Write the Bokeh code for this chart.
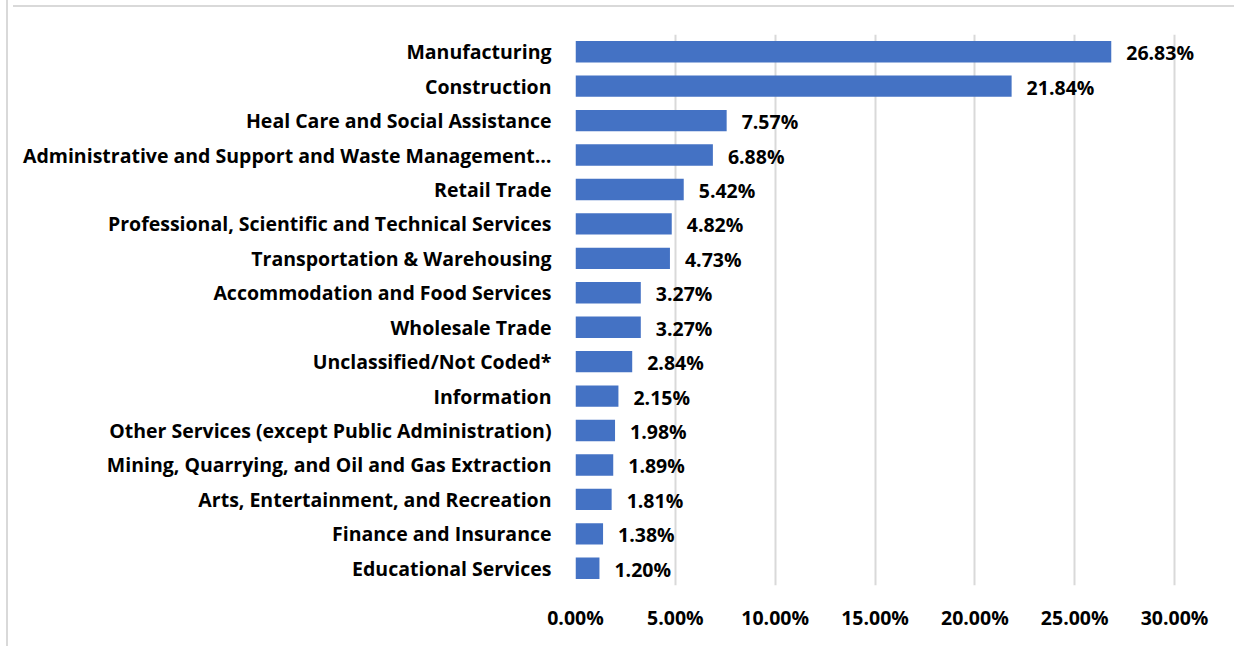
from bokeh.plotting import figure
from bokeh.layouts import column
from bokeh.models import ColumnDataSource, FixedTicker, NumeralTickFormatter, Div
from bokeh.core.properties import value
from bokeh.embed import file_html
from bokeh.resources import INLINE

# Data (top to bottom as in the reference)
industries = [
    "Manufacturing",
    "Construction",
    "Heal Care and Social Assistance",
    "Administrative and Support and Waste Management\u2026",
    "Retail Trade",
    "Professional, Scientific and Technical Services",
    "Transportation & Warehousing",
    "Accommodation and Food Services",
    "Wholesale Trade",
    "Unclassified/Not Coded*",
    "Information",
    "Other Services (except Public Administration)",
    "Mining, Quarrying, and Oil and Gas Extraction",
    "Arts, Entertainment, and Recreation",
    "Finance and Insurance",
    "Educational Services",
]
shares = [0.2683, 0.2184, 0.0757, 0.0688, 0.0542, 0.0482, 0.0473, 0.0327,
          0.0327, 0.0284, 0.0215, 0.0198, 0.0189, 0.0181, 0.0138, 0.0120]
share_labels = ["26.83%", "21.84%", "7.57%", "6.88%", "5.42%", "4.82%", "4.73%", "3.27%",
                "3.27%", "2.84%", "2.15%", "1.98%", "1.89%", "1.81%", "1.38%", "1.20%"]
x_ticks = [0.0, 0.05, 0.10, 0.15, 0.20, 0.25, 0.30]

FONT = "Open Sans"
FSIZE = "19.5px"
BLUE = "#4472C4"
GRID = "#d9d9d9"

src = ColumnDataSource(dict(cat=industries, val=shares, lab=share_labels))

p = figure(
    y_range=list(reversed(industries)),
    x_range=(0, 0.32),
    width=1224, height=634,
    output_backend="svg", toolbar_location=None,
    min_border_left=567, min_border_right=18,
    min_border_top=22, min_border_bottom=61,
)

p.hbar(y="cat", right="val", height=0.62, left=0, source=src,
       fill_color=BLUE, line_color=None)

p.text(x="val", y="cat", text="lab", source=src, x_offset=15, y_offset=1,
       text_font=value(FONT), text_font_style="bold", text_font_size=FSIZE,
       text_color="#000000", text_baseline="middle", text_align="left")

p.outline_line_color = None
p.background_fill_color = "white"
p.border_fill_color = "white"

p.ygrid.grid_line_color = None
p.xgrid.grid_line_color = GRID
p.xgrid.grid_line_width = 2
p.xgrid.ticker = FixedTicker(ticks=x_ticks)

xa = p.xaxis[0]
xa.ticker = FixedTicker(ticks=x_ticks)
xa.formatter = NumeralTickFormatter(format="0.00%")
xa.axis_line_color = None
xa.major_tick_line_color = None
xa.minor_tick_line_color = None
xa.major_label_standoff = 12
xa.major_label_text_font = FONT
xa.major_label_text_font_style = "bold"
xa.major_label_text_font_size = FSIZE
xa.major_label_text_color = "#000000"

ya = p.yaxis[0]
ya.axis_line_color = None
ya.major_tick_line_color = None
ya.minor_tick_line_color = None
ya.major_label_standoff = 18
ya.major_label_text_font = FONT
ya.major_label_text_font_style = "bold"
ya.major_label_text_font_size = FSIZE
ya.major_label_text_color = "#000000"

top_rule = Div(text="", width=1224, height=2,
               styles={"background-color": "#d9d9d9"})

layout = column(top_rule, p, spacing=0,
                styles={"border-left": "2px solid #d9d9d9",
                        "margin-left": "6px"})

open("out.html", "w").write(file_html(layout, INLINE))
